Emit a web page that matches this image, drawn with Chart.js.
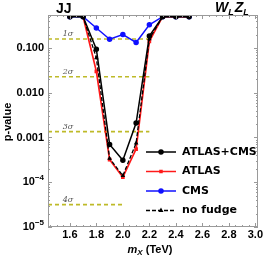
<!DOCTYPE html>
<html lang="en">
<head>
    <meta charset="UTF-8">
    <title>p-value scan</title>
    <script src="https://cdn.jsdelivr.net/npm/chart.js"></script>
    <style>
        body { margin: 0; background: #fff; }
        #wrap { width: 266px; height: 258px; }
    </style>
</head>
<body>
    <div id="wrap"><canvas id="pChart" width="266" height="258"></canvas></div>

    <script>
        // resonance masses (TeV)
        var masses = [1.6, 1.7, 1.8, 1.9, 2.0, 2.1, 2.2, 2.3, 2.4, 2.5];

        // local p-values
        var combined = [0.5, 0.5, 0.094, 7.0e-4, 3.1e-4, 2.1e-3, 0.185, 0.5, 0.5, 0.5];
        var atlas    = [null, 0.5, 0.03, 3.2e-4, 1.3e-4, 5.5e-4, 0.14, 0.5, 0.5, 0.5];
        var cms      = [0.5, 0.5, 0.28, 0.157, 0.2, 0.133, 0.33, 0.5, 0.5, 0.5];
        var noFudge  = [0.5, 0.5, 0.06, 3.4e-4, 1.4e-4, 7.5e-4, 0.16, 0.5, 0.5, 0.5];

        var seriesNames = ['ATLAS+CMS', 'ATLAS', 'CMS', 'no fudge'];

        // n-sigma reference lines
        var sigmaLabels = ['1σ', '2σ', '3σ', '4σ'];
        var sigmaP = [0.1587, 0.02275, 0.00135, 3.17e-5];
        var sigmaEnd = [2.2, 2.2, 2.2, 2.0];

        var xTicks = ['1.6', '1.8', '2.0', '2.2', '2.4', '2.6', '2.8', '3.0'];
        var yTicks = [0.1, 0.01, 0.001, 1e-4, 1e-5];
        var yTickText = ['0.100', '0.010', '0.001', '10|−4', '10|−5'];

        var xMin = 1.435, xMax = 3.02;
        var yMin = 1e-5, yMax = 0.546;

        function pts(ys) {
            var out = [];
            for (var i = 0; i < masses.length; i++) {
                out.push({ x: masses[i], y: ys[i] });
            }
            return out;
        }

        var olive = 'rgb(190,186,40)';
        var datasets = [];

        for (var s = 0; s < sigmaP.length; s++) {
            datasets.push({
                data: [{ x: xMin, y: sigmaP[s] }, { x: sigmaEnd[s], y: sigmaP[s] }],
                borderColor: olive, borderWidth: 1.6, borderDash: [4, 3],
                pointRadius: 0, showLine: true, order: 10
            });
        }

        datasets.push({
            label: seriesNames[2], data: pts(cms), borderColor: '#1010ff', backgroundColor: '#1010ff',
            borderWidth: 1.5, pointRadius: 2, pointStyle: 'circle', showLine: true, order: 4
        });
        datasets.push({
            label: seriesNames[1], data: pts(atlas), borderColor: '#ff1a1a', backgroundColor: '#ff1a1a',
            borderWidth: 1.7, pointRadius: 1.4, pointStyle: 'rect', showLine: true, order: 3
        });
        datasets.push({
            label: seriesNames[3], data: pts(noFudge), borderColor: '#000', backgroundColor: '#000',
            borderWidth: 1.3, borderDash: [4, 2], pointRadius: 1.4, pointStyle: 'triangle', showLine: true, order: 2
        });
        datasets.push({
            label: seriesNames[0], data: pts(combined), borderColor: '#000', backgroundColor: '#000',
            borderWidth: 1.5, pointRadius: 2, pointStyle: 'circle', showLine: true, order: 1
        });

        var legendStyle = [
            { color: '#000', dash: [], style: 'circle', r: 2 },
            { color: '#ff1a1a', dash: [], style: 'rect', r: 1.4 },
            { color: '#1010ff', dash: [], style: 'circle', r: 2 },
            { color: '#000', dash: [4, 2], style: 'triangle', r: 1.4 }
        ];

        var frameAndText = {
            id: 'frameAndText',
            afterDraw: function (chart) {
                var c = chart.ctx;
                var a = chart.chartArea;
                var xs = chart.scales.x, ys = chart.scales.y;
                c.save();

                // frame
                c.strokeStyle = '#9a9a9a';
                c.lineWidth = 1;
                c.strokeRect(a.left + 0.5, a.top + 0.5, a.right - a.left - 1, a.bottom - a.top - 1);

                // x ticks (inward, top and bottom)
                for (var v = 1.45; v <= 3.0001; v += 0.05) {
                    var px = Math.round(xs.getPixelForValue(v)) + 0.5;
                    var major = Math.abs(v * 5 - Math.round(v * 5)) < 0.01;
                    var len = major ? 4 : 2;
                    c.beginPath();
                    c.moveTo(px, a.bottom); c.lineTo(px, a.bottom - len);
                    c.moveTo(px, a.top); c.lineTo(px, a.top + len);
                    c.stroke();
                }
                // y ticks (log)
                for (var e = -5; e <= -1; e++) {
                    for (var m = 1; m <= 9; m++) {
                        var val = m * Math.pow(10, e);
                        if (val > yMax) continue;
                        var py = Math.round(ys.getPixelForValue(val)) + 0.5;
                        var l2 = m === 1 ? 4 : 2;
                        c.beginPath();
                        c.moveTo(a.left, py); c.lineTo(a.left + l2, py);
                        c.moveTo(a.right, py); c.lineTo(a.right - l2, py);
                        c.stroke();
                    }
                }

                // tick labels
                c.fillStyle = '#000';
                c.font = 'bold 11px "Liberation Sans"';
                c.textAlign = 'center';
                c.textBaseline = 'middle';
                for (var i = 0; i < xTicks.length; i++) {
                    c.fillText(xTicks[i], xs.getPixelForValue(parseFloat(xTicks[i])), a.bottom + 8);
                }
                c.textAlign = 'right';
                for (var j = 0; j < yTicks.length; j++) {
                    var ty = ys.getPixelForValue(yTicks[j]);
                    var parts = yTickText[j].split('|');
                    if (parts.length === 1) {
                        c.font = 'bold 11px "Liberation Sans"';
                        c.fillText(parts[0], a.left - 4, ty);
                    } else {
                        c.font = 'bold 8px "Liberation Sans"';
                        var supW = c.measureText(parts[1]).width;
                        c.fillText(parts[1], a.left - 4, ty - 4);
                        c.font = 'bold 11px "Liberation Sans"';
                        c.fillText(parts[0], a.left - 4 - supW, ty);
                    }
                }

                // sigma labels
                c.font = 'italic 8px "DejaVu Serif"';
                c.fillStyle = '#555';
                c.textAlign = 'center';
                c.textBaseline = 'alphabetic';
                for (var k = 0; k < sigmaLabels.length; k++) {
                    c.fillText(sigmaLabels[k], 68, ys.getPixelForValue(sigmaP[k]) - 3);
                }

                // legend
                c.textAlign = 'left';
                c.textBaseline = 'middle';
                for (var n = 0; n < seriesNames.length; n++) {
                    var ly = 152 + n * 19.5;
                    var st = legendStyle[n];
                    c.strokeStyle = st.color;
                    c.fillStyle = st.color;
                    c.lineWidth = 1.5;
                    c.setLineDash(st.dash);
                    c.beginPath();
                    c.moveTo(146, ly); c.lineTo(176, ly);
                    c.stroke();
                    c.setLineDash([]);
                    Chart.helpers.drawPoint(c, { pointStyle: st.style, radius: st.r, borderWidth: 1 }, 161, ly);
                    c.fillStyle = '#000';
                    c.font = 'bold 11px "DejaVu Sans"';
                    c.fillText(seriesNames[n], 182, ly);
                }

                // titles
                c.font = 'bold 14px "Liberation Sans"';
                c.textBaseline = 'alphabetic';
                c.fillText('JJ', 56, 13);

                var tx = 215;
                c.font = 'italic bold 14px "Liberation Sans"';
                c.fillText('W', tx, 12); tx += c.measureText('W').width;
                c.font = 'italic bold 9px "Liberation Sans"';
                c.fillText('L', tx, 15); tx += c.measureText('L').width + 1;
                c.font = 'italic bold 14px "Liberation Sans"';
                c.fillText('Z', tx, 12); tx += c.measureText('Z').width;
                c.font = 'italic bold 9px "Liberation Sans"';
                c.fillText('L', tx, 15);

                // x axis title
                c.font = 'italic bold 11px "Liberation Sans"';
                var w1 = c.measureText('m').width;
                c.font = 'italic bold 8px "Liberation Sans"';
                var w2 = c.measureText('X').width;
                c.font = 'bold 11px "Liberation Sans"';
                var w3 = c.measureText(' (TeV)').width;
                var sx = 150 - (w1 + w2 + w3) / 2;
                c.font = 'italic bold 11px "Liberation Sans"';
                c.fillText('m', sx, 253);
                c.font = 'italic bold 8px "Liberation Sans"';
                c.fillText('X', sx + w1, 255);
                c.font = 'bold 11px "Liberation Sans"';
                c.fillText(' (TeV)', sx + w1 + w2, 253);

                // y axis title
                c.translate(11, 122);
                c.rotate(-Math.PI / 2);
                c.textAlign = 'center';
                c.font = 'bold 11px "Liberation Sans"';
                c.fillText('p-value', 0, 0);

                c.restore();
            }
        };

        var ctx = document.getElementById('pChart').getContext('2d');
        var pChart = new Chart(ctx, {
            type: 'scatter',
            data: { datasets: datasets },
            options: {
                responsive: false,
                animation: false,
                layout: { padding: { left: 48, right: 8, top: 15, bottom: 31 } },
                plugins: { legend: { display: false }, tooltip: { enabled: false } },
                scales: {
                    x: { type: 'linear', min: xMin, max: xMax, display: false },
                    y: { type: 'logarithmic', min: yMin, max: yMax, display: false }
                }
            },
            plugins: [frameAndText]
        });
    </script>
</body>
</html>
